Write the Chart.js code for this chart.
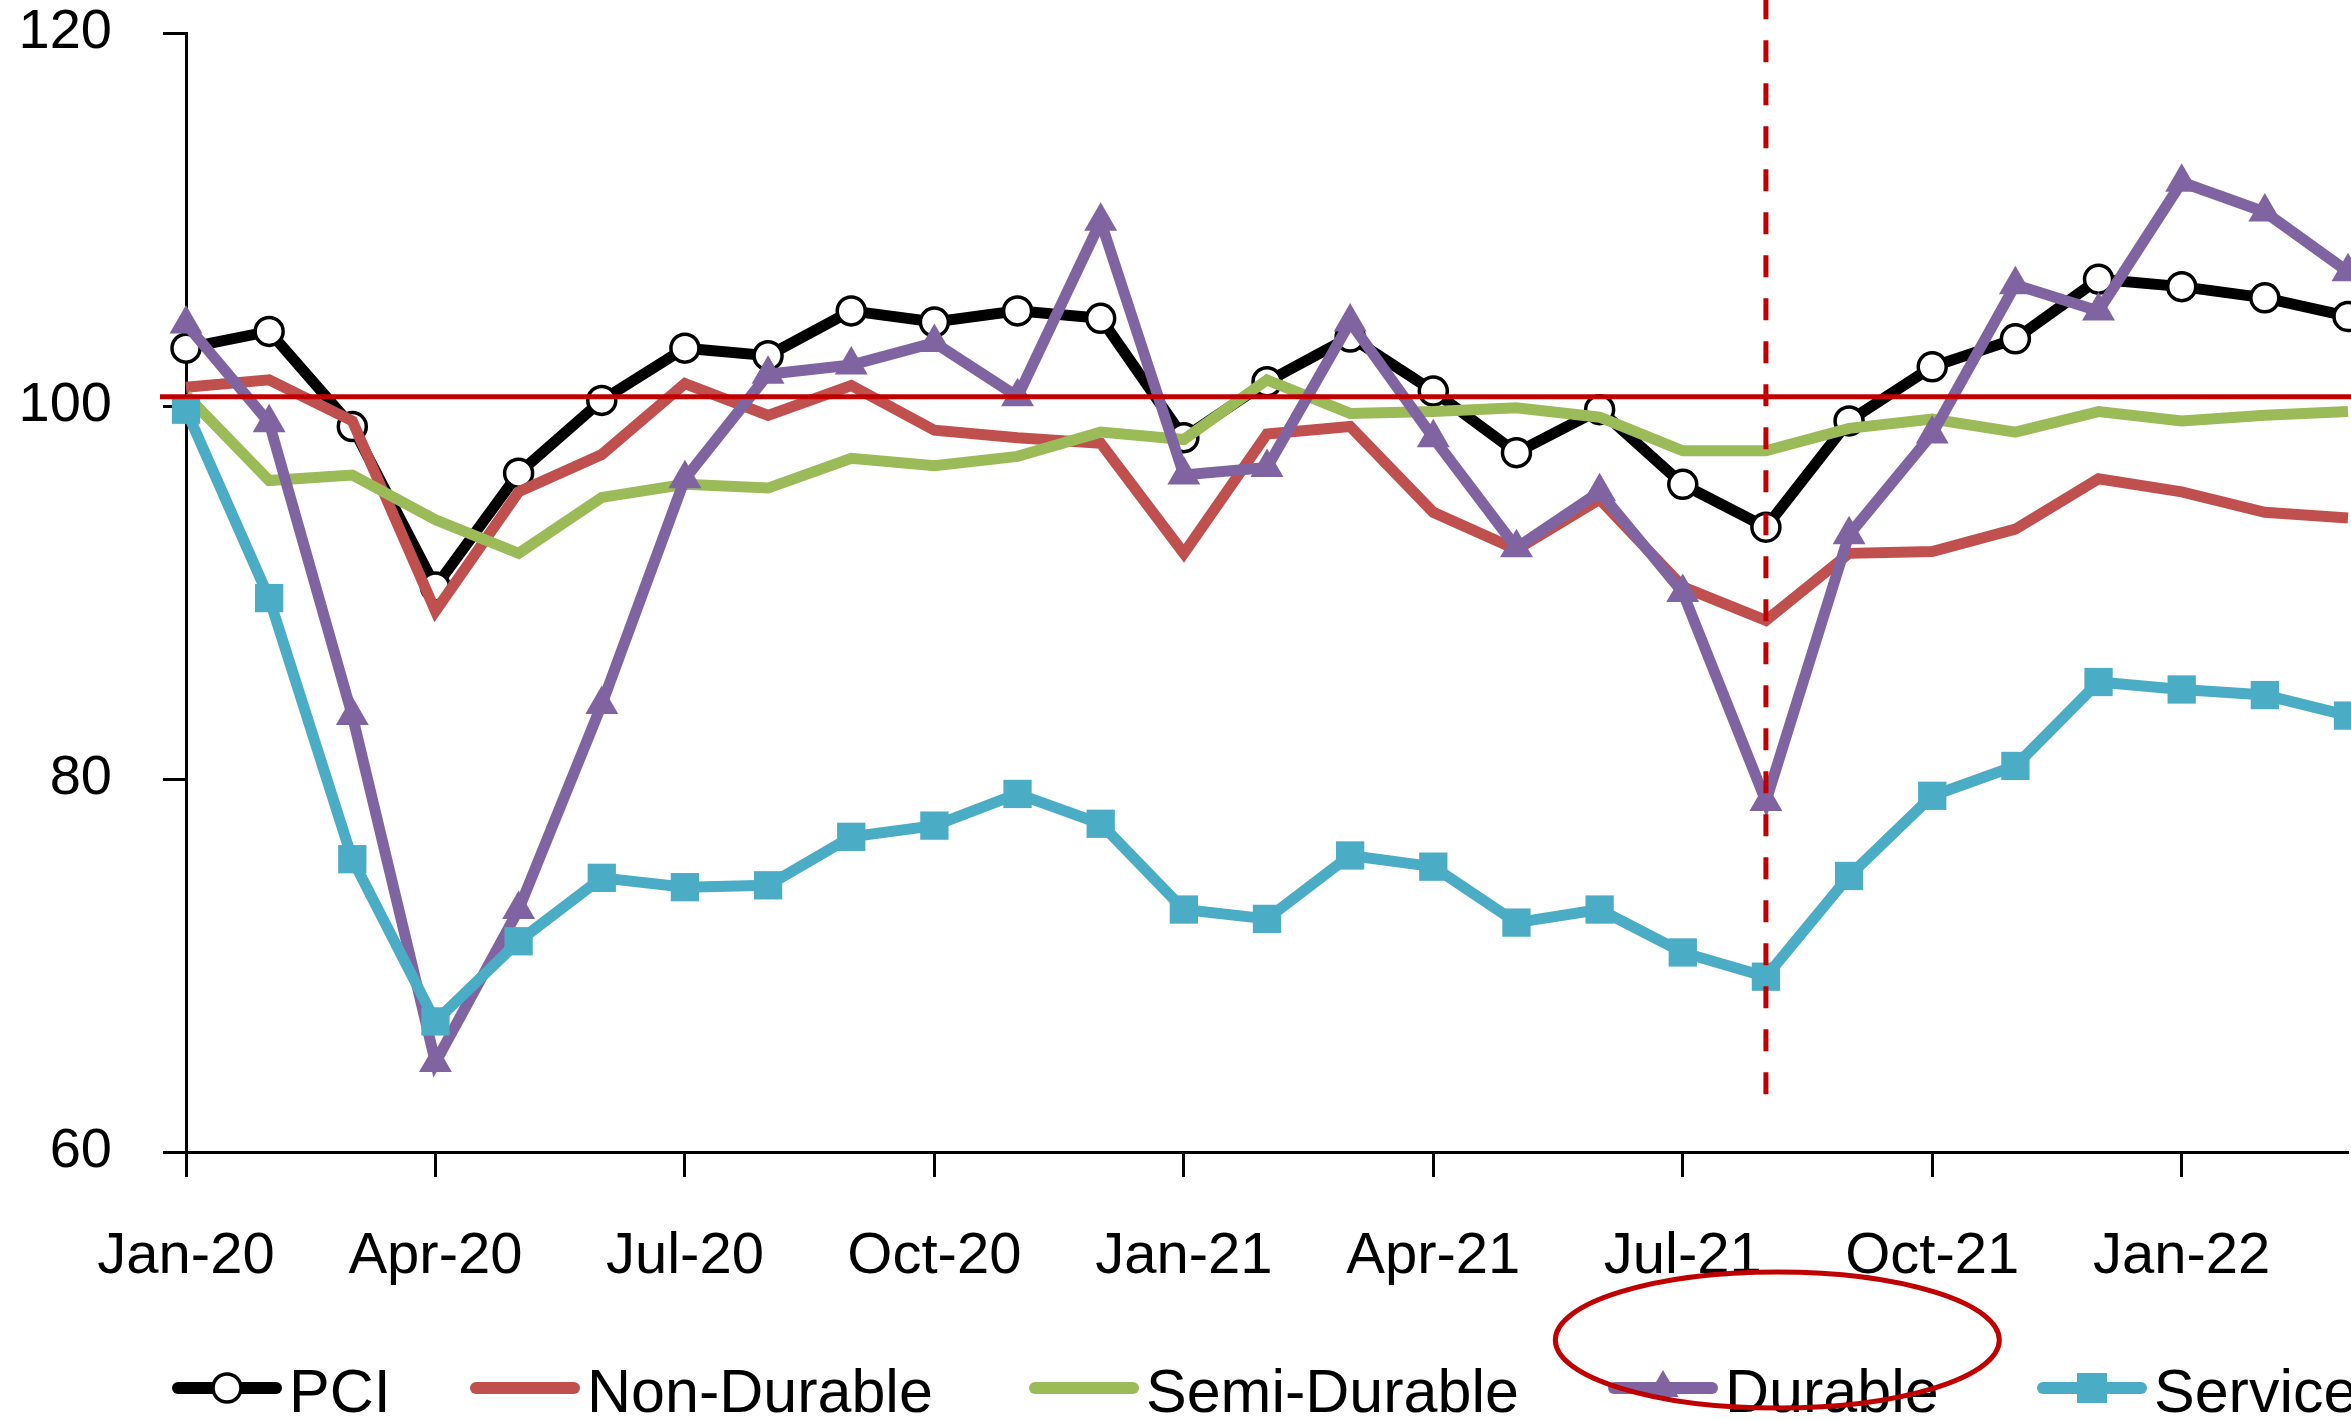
<!DOCTYPE html>
<html>
<head>
<meta charset="utf-8">
<script src="https://cdn.jsdelivr.net/npm/chart.js@4.4.1/dist/chart.umd.min.js"></script>
<style>
  html, body { margin: 0; padding: 0; background: #ffffff; overflow: hidden; }
  canvas { display: block; }
</style>
</head>
<body>
<canvas id="c" width="2351" height="1421" style="width:2351px;height:1421px"></canvas>
<script>
// ---------- data ----------
const months = ['Jan-20','Feb-20','Mar-20','Apr-20','May-20','Jun-20','Jul-20','Aug-20','Sep-20','Oct-20','Nov-20','Dec-20',
                'Jan-21','Feb-21','Mar-21','Apr-21','May-21','Jun-21','Jul-21','Aug-21','Sep-21','Oct-21','Nov-21','Dec-21',
                'Jan-22','Feb-22','Mar-22'];
const tickEvery = 3;
const yTicks = [60, 80, 100, 120];

const pci         = [103.1,104.0, 98.9, 90.3, 96.4,100.3,103.1,102.7,105.1,104.5,105.1,104.7, 98.3,101.3,103.7,100.8, 97.5, 99.8, 95.8, 93.5, 99.2,102.1,103.6,106.8,106.4,105.8,104.8];
const nonDurable  = [101.0,101.4, 99.2, 89.0, 95.4, 97.4,101.2, 99.5,101.1, 98.7, 98.3, 98.0, 92.1, 98.5, 98.9, 94.3, 92.3, 95.0, 90.3, 88.5, 92.1, 92.2, 93.4, 96.1, 95.4, 94.3, 94.0];
const semiDurable = [100.6, 96.0, 96.3, 93.9, 92.1, 95.1, 95.8, 95.6, 97.2, 96.8, 97.3, 98.6, 98.2,101.4, 99.6, 99.7, 99.9, 99.4, 97.6, 97.6, 98.8, 99.3, 98.6, 99.7, 99.2, 99.5, 99.7];
const durable     = [104.4, 99.1, 83.4, 64.8, 73.0, 84.0, 96.1,101.7,102.2,103.4,100.5,109.9, 96.3, 96.7,104.5, 98.3, 92.4, 95.4, 90.0, 78.8, 93.1, 98.5,106.5,105.1,112.0,110.4,107.2];
const service     = [ 99.8, 89.7, 75.7, 67.0, 71.3, 74.7, 74.2, 74.3, 76.9, 77.5, 79.2, 77.6, 73.0, 72.5, 75.9, 75.3, 72.3, 73.0, 70.7, 69.4, 74.8, 79.1, 80.7, 85.2, 84.8, 84.5, 83.4];

const refLineValue = 100.5;     // red horizontal reference line
const markerMonth = 'Aug-21';   // red dashed vertical line
const markerBottomValue = 63.1; // where the dashed line stops

// ---------- styles ----------
const RED = '#C00000';
const FONT = '"Liberation Sans", Arial, sans-serif';
const legendStarts = [172, 470, 1029, 1608, 2037];

const overlay = {
  id: 'overlay',
  afterDatasetsDraw(chart) {
    const { ctx, chartArea, scales: { x, y } } = chart;
    ctx.save();
    ctx.strokeStyle = RED;
    ctx.lineWidth = 5;
    const yy = y.getPixelForValue(refLineValue);
    ctx.beginPath();
    ctx.moveTo(chartArea.left - 26, yy);
    ctx.lineTo(chart.width, yy);
    ctx.stroke();

    const xx = x.getPixelForValue(months.indexOf(markerMonth));
    ctx.setLineDash([22, 21]);
    ctx.lineWidth = 5;
    ctx.beginPath();
    ctx.moveTo(xx, y.getPixelForValue(markerBottomValue));
    ctx.lineTo(xx, 0);
    ctx.stroke();
    ctx.restore();
  },
  afterDraw(chart) {
    const { ctx } = chart;
    ctx.save();
    const H = chart.height;
    const yLine = H - 33;
    const yText = H - 9;
    ctx.font = '61px ' + FONT;
    ctx.textBaseline = 'alphabetic';
    ctx.textAlign = 'left';
    const lineLen = 110;
    let durableBox = null;
    const dsList = chart.data.datasets.slice().sort((a, b) => a.legendIndex - b.legendIndex);
    dsList.forEach((ds, k) => {
      const xPos = legendStarts[k];
      ctx.strokeStyle = ds.borderColor;
      ctx.lineWidth = 12;
      ctx.lineCap = 'round';
      ctx.setLineDash([]);
      ctx.beginPath();
      ctx.moveTo(xPos + 6, yLine);
      ctx.lineTo(xPos + lineLen - 6, yLine);
      ctx.stroke();
      const cx = xPos + lineLen / 2;
      if (ds.pointStyle === 'circle' && ds.pointRadius > 0) {
        ctx.beginPath();
        ctx.arc(cx, yLine, 14, 0, Math.PI * 2);
        ctx.fillStyle = ds.pointBackgroundColor;
        ctx.fill();
        ctx.lineWidth = 3.5;
        ctx.strokeStyle = ds.pointBorderColor;
        ctx.stroke();
      } else if (ds.pointStyle === 'triangle') {
        const r = 18;
        ctx.beginPath();
        ctx.moveTo(cx, yLine - r);
        ctx.lineTo(cx + r * Math.sin(2 * Math.PI / 3), yLine - r * Math.cos(2 * Math.PI / 3));
        ctx.lineTo(cx + r * Math.sin(4 * Math.PI / 3), yLine - r * Math.cos(4 * Math.PI / 3));
        ctx.closePath();
        ctx.fillStyle = ds.pointBackgroundColor;
        ctx.fill();
      } else if (ds.pointStyle === 'rect') {
        ctx.fillStyle = ds.pointBackgroundColor;
        ctx.fillRect(cx - 15, yLine - 15, 30, 30);
      }
      ctx.fillStyle = '#000';
      const tx = xPos + lineLen + 7;
      ctx.fillText(ds.label, tx, yText);
      const w = ctx.measureText(ds.label).width;
      if (ds.label === 'Durable') durableBox = { x0: xPos, x1: tx + w };
    });
    if (durableBox) {
      ctx.beginPath();
      ctx.ellipse((durableBox.x0 + durableBox.x1) / 2 + 4, H - 81, 222, 68, 0, 0, Math.PI * 2);
      ctx.strokeStyle = RED;
      ctx.lineWidth = 5;
      ctx.stroke();
    }
    ctx.restore();
  }
};

const common = { fill: false, tension: 0, borderWidth: 11, borderJoinStyle: 'miter', borderCapStyle: 'butt' };

new Chart(document.getElementById('c'), {
  type: 'line',
  data: {
    labels: months,
    datasets: [
      Object.assign({}, common, { label: 'PCI', data: pci, legendIndex: 0, order: 5,
        borderColor: '#000000', pointStyle: 'circle', pointRadius: 14, pointBorderWidth: 3.5,
        pointBackgroundColor: '#ffffff', pointBorderColor: '#000000' }),
      Object.assign({}, common, { label: 'Non-Durable', data: nonDurable, legendIndex: 1, order: 4,
        borderColor: '#C0504D', pointRadius: 0, pointStyle: 'circle', pointBackgroundColor: '#C0504D', pointBorderColor: '#C0504D' }),
      Object.assign({}, common, { label: 'Semi-Durable', data: semiDurable, legendIndex: 2, order: 3,
        borderColor: '#9BBB59', pointRadius: 0, pointStyle: 'circle', pointBackgroundColor: '#9BBB59', pointBorderColor: '#9BBB59' }),
      Object.assign({}, common, { label: 'Durable', data: durable, legendIndex: 3, order: 2,
        borderColor: '#8064A2', pointStyle: 'triangle', pointRadius: 19, pointBorderWidth: 0,
        pointBackgroundColor: '#8064A2', pointBorderColor: '#8064A2' }),
      Object.assign({}, common, { label: 'Service', data: service, legendIndex: 4, order: 1,
        borderColor: '#4BACC6', pointStyle: 'rect', pointRadius: 20, pointBorderWidth: 0,
        pointBackgroundColor: '#4BACC6', pointBorderColor: '#4BACC6' })
    ]
  },
  options: {
    responsive: false,
    devicePixelRatio: 1,
    animation: false,
    layout: { autoPadding: false, padding: { top: 33, right: 3, left: 0, bottom: 0 } },
    plugins: { legend: { display: false }, tooltip: { enabled: false } },
    elements: { point: { hoverRadius: 0 } },
    scales: {
      x: {
        type: 'category',
        offset: false,
        afterFit: s => { s.height = 269; s.paddingLeft = 0; s.paddingRight = 0; },
        grid: {
          display: true, drawOnChartArea: false, drawTicks: true, tickLength: 25,
          tickWidth: 3,
          tickColor: c => (c.index % tickEvery === 0 ? '#000' : 'rgba(0,0,0,0)')
        },
        border: { display: true, color: '#000', width: 3 },
        ticks: {
          autoSkip: false, maxRotation: 0, minRotation: 0, padding: 45, color: '#000',
          font: { family: FONT, size: 58 },
          callback: (v, i) => (i % tickEvery === 0 ? months[i] : '')
        }
      },
      y: {
        min: yTicks[0], max: yTicks[yTicks.length - 1],
        afterFit: s => { s.width = 186; s.paddingTop = 0; s.paddingBottom = 0; },
        afterBuildTicks: s => { s.ticks = yTicks.map(v => ({ value: v })); },
        grid: { display: true, drawOnChartArea: false, drawTicks: true, tickLength: 23, tickWidth: 3, tickColor: '#000' },
        border: { display: true, color: '#000', width: 3 },
        ticks: { padding: 51, color: '#000', font: { family: FONT, size: 56 } }
      }
    }
  },
  plugins: [overlay]
});
</script>
</body>
</html>
